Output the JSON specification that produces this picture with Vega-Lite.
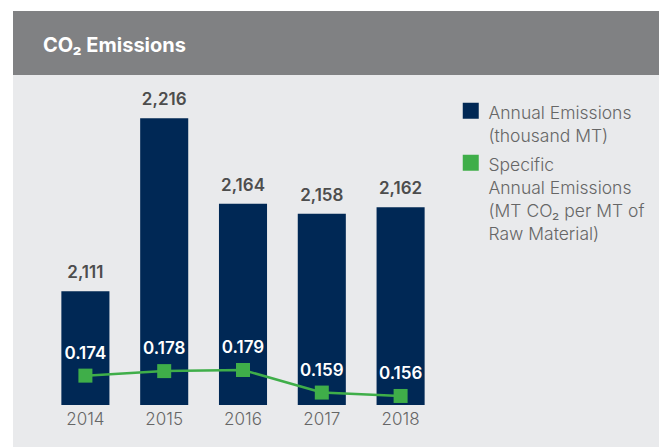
{
  "$schema": "https://vega.github.io/schema/vega-lite/v6.json",
  "background": "white",
  "padding": {"left": 13, "top": 11, "right": 0, "bottom": 0},
  "spacing": 0,
  "config": {"view": {"stroke": null}, "font": "Inter"},
  "vconcat": [
    {
      "width": 646,
      "height": 64,
      "view": {"fill": "#808183", "stroke": null},
      "data": {"values": [{"title": "CO₂ Emissions"}]},
      "mark": {"type": "text", "font": "Inter", "fontWeight": "bold", "fontSize": 20, "color": "white", "align": "left", "baseline": "middle"},
      "encoding": {"x": {"value": 30}, "y": {"value": 35}, "text": {"field": "title"}}
    },
    {
      "width": 646,
      "height": 372,
      "view": {"fill": "#e9eaec", "stroke": null},
      "data": {"values": [
        {"year": "2014", "emissions": 2111, "specific": 0.174},
        {"year": "2015", "emissions": 2216, "specific": 0.178},
        {"year": "2016", "emissions": 2164, "specific": 0.179},
        {"year": "2017", "emissions": 2158, "specific": 0.159},
        {"year": "2018", "emissions": 2162, "specific": 0.156}
      ]},
      "encoding": {
        "x": {
          "field": "year", "type": "ordinal",
          "scale": {"range": [33, 427], "paddingInner": 0.39, "paddingOuter": 0.195},
          "axis": {"orient": "bottom", "offset": -42, "domain": false, "ticks": false, "grid": false, "title": null, "labelAngle": 0, "labelPadding": 6, "labelFontSize": 17, "labelColor": "#666666", "labelFontWeight": 300, "labelFont": "Inter"}
        }
      },
      "layer": [
        {
          "encoding": {
            "y": {"field": "emissions", "type": "quantitative", "scale": {"domain": [2042, 2227], "range": [330, 25], "zero": false, "nice": false}, "axis": null}
          },
          "layer": [
            {
              "mark": {"type": "bar", "clip": false},
              "encoding": {
                "y2": {"datum": 2042},
                "color": {
                  "datum": "Annual Emissions|(thousand MT)",
                  "scale": {"domain": ["Annual Emissions|(thousand MT)", "Specific|Annual Emissions|(MT CO₂ per MT of|Raw Material)"], "range": ["#002855", "#3fae49"]},
                  "legend": {
                    "orient": "none", "legendX": 449, "legendY": 91, "title": null, "padding": 0,
                    "symbolType": "square", "symbolSize": 256, "symbolStrokeWidth": 0,
                    "labelFontSize": 17.5, "labelColor": "#666666", "labelFont": "Inter", "labelFontWeight": 300, "labelLimit": 300, "labelOffset": 9,
                    "labelExpr": "split(datum.label, '|')", "rowPadding": 8, "labelBaseline": "top",
                    "encode": {
                      "labels": {"update": {"lineHeight": {"value": 23}, "dy": {"value": -6}}},
                      "symbols": {"update": {"fill": {"scale": "color", "field": "value"}, "opacity": {"value": 1}}}
                    }
                  }
                }
              }
            },
            {
              "mark": {"type": "text", "dy": -18, "fontSize": 17, "fontWeight": 600, "color": "#4d4d4d", "font": "Inter", "baseline": "middle"},
              "encoding": {"text": {"field": "emissions", "type": "quantitative", "format": ","}}
            }
          ]
        },
        {
          "encoding": {
            "y": {"field": "specific", "type": "quantitative", "scale": {"domain": [0.148, 0.418], "range": [330, 25], "zero": false, "nice": false}, "axis": null}
          },
          "layer": [
            {
              "mark": {"type": "line", "strokeWidth": 2.5, "color": "#3fae49", "point": {"shape": "square", "size": 196, "filled": true, "color": "#3fae49", "opacity": 1}},
              "encoding": {"color": {"datum": "Specific|Annual Emissions|(MT CO₂ per MT of|Raw Material)"}}
            },
            {
              "mark": {"type": "text", "dy": -22, "fontSize": 17, "fontWeight": 600, "color": "white", "font": "Inter", "baseline": "middle"},
              "encoding": {"text": {"field": "specific", "type": "quantitative", "format": ".3f"}}
            }
          ]
        }
      ],
      "resolve": {"scale": {"y": "independent"}}
    }
  ]
}
